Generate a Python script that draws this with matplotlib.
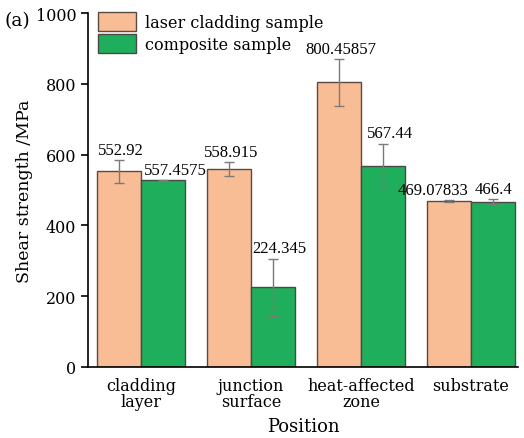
import matplotlib.pyplot as plt
import numpy as np

positions = ['cladding\nlayer', 'junction\nsurface', 'heat-affected\nzone', 'substrate']
laser = [552.92, 558.915, 804, 469.1]
laser_err = [32, 20, 67, 3]
laser_labels = ['552.92', '558.915', '800.45857', '469.07833']
composite = [527, 225, 569, 466.4]
composite_err = [2, 81, 62, 7]
composite_labels = ['557.4575', '224.345', '567.44', '466.4']

plt.rcParams['font.family'] = ['DejaVu Serif']

fig = plt.figure(figsize=(5.24, 4.39), dpi=100)
ax = fig.add_axes([0.168, 0.162, 0.821, 0.806])

x = np.arange(len(positions))
w = 0.4
ekw = dict(ecolor='#7a7a7a', elinewidth=1, capsize=3.5)
ax.bar(x - w / 2, laser, w, color='#f8bd95', edgecolor='#5a4a44', linewidth=1,
       yerr=laser_err, error_kw=ekw, label='laser cladding sample')
ax.bar(x + w / 2, composite, w, color='#1fae5b', edgecolor='#4a4a44', linewidth=1,
       yerr=composite_err, error_kw=ekw, label='composite sample')

lab_font = dict(family='Liberation Serif', fontsize=12, va='bottom')
for i, (v, e, s) in enumerate(zip(laser, laser_err, laser_labels)):
    if i == len(x) - 1:
        # crowded pair at the right: push apart
        ax.text(x[i] - 0.02, v + e + 6, s, ha='right', **lab_font)
    else:
        ax.text(x[i] - w / 2 + 0.02, v + e + 6, s, ha='center', **lab_font)
for i, (v, e, s) in enumerate(zip(composite, composite_err, composite_labels)):
    if i == 0 or i == len(x) - 1:
        ax.text(x[i] + 0.03, v + e + 6, s, ha='left', **lab_font)
    else:
        ax.text(x[i] + w / 2 + 0.06, v + e + 6, s, ha='center', **lab_font)

ax.set_xlim(-0.48, 3.43)
ax.set_ylim(0, 1000)
ax.set_xticks(x)
ax.set_xticklabels(positions, fontsize=11.5, linespacing=0.95)
ax.set_yticks(np.arange(0, 1001, 200))
ax.tick_params(axis='y', labelsize=11.5, length=5, width=1.2)
ax.tick_params(axis='x', length=0, pad=7)
ax.spines['top'].set_visible(False)
ax.spines['right'].set_visible(False)
ax.spines['left'].set_linewidth(1.2)
ax.spines['bottom'].set_linewidth(1.2)
ax.set_xlabel('Position', fontsize=13, labelpad=5)
ax.set_ylabel('Shear strength /MPa', fontsize=12.5, labelpad=2)

ax.legend(loc='upper left', bbox_to_anchor=(0.0, 1.03), frameon=False, fontsize=11.5,
          handlelength=2.4, handleheight=1.45, handletextpad=0.55, labelspacing=0.2,
          borderaxespad=0.2)

fig.text(0.008, 0.952, '(a)', fontsize=13.5, va='center')

fig.savefig('out.png', dpi=100)
